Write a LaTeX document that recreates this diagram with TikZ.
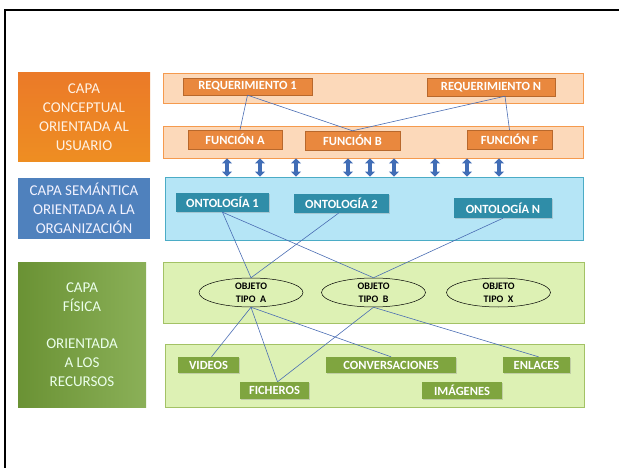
\documentclass[tikz,border=0pt]{standalone}
\usepackage{fontspec}
\setmainfont{Carlito}
\usetikzlibrary{arrows.meta,shapes.geometric,shadows}

\definecolor{capanaranja}{HTML}{EB7A28}
\definecolor{capaazul}{HTML}{4F81BD}
\definecolor{capaverde}{HTML}{76A23A}
\definecolor{bandanaranja}{HTML}{FCD9BA}
\definecolor{bordenaranja}{HTML}{F59A4E}
\definecolor{tagnaranja}{HTML}{E9883E}
\definecolor{tagnaranjaborde}{HTML}{B8682C}
\definecolor{bandaazul}{HTML}{B5E5F6}
\definecolor{bordeazul}{HTML}{4BACC6}
\definecolor{tagazul}{HTML}{2F8DA8}
\definecolor{bandaverde}{HTML}{DDF1B4}
\definecolor{bordeverde}{HTML}{A3C265}
\definecolor{tagverde}{HTML}{7FA53F}
\definecolor{lineaazul}{HTML}{4A6DB3}
\definecolor{flechaazul}{HTML}{416DB6}

\tikzset{
  capa/.style={rectangle, inner sep=0pt, align=center, font=\fontsize{15}{19}\selectfont},
  banda/.style={rectangle, draw, line width=0.8pt, inner sep=0pt},
  etiqueta/.style={rectangle, inner sep=0pt, text=white, font=\bfseries\fontsize{12.5}{14}\selectfont,
    drop shadow={shadow xshift=1pt, shadow yshift=-1pt, opacity=0.3}},
  objeto/.style={ellipse, draw, line width=0.5pt, minimum width=104pt, minimum height=29pt,
    inner sep=0pt, align=center, font=\bfseries\fontsize{10}{13}\selectfont},
  enlace/.style={draw=lineaazul, line width=0.6pt},
  flecha/.style={draw=flechaazul, line width=4pt, {Triangle[length=5pt,width=10pt]}-{Triangle[length=5pt,width=10pt]}}
}

\begin{document}
\begin{tikzpicture}[x=1pt,y=-1pt]
  \useasboundingbox (0,0) rectangle (619,468);
  \draw[line width=1.2pt] (5,468) -- (5,10) -- (619,10); % marco

  % capas de la izquierda
  \node[capa, top color=capanaranja, bottom color=capanaranja!85!yellow, text=orange!10,
    minimum width=132pt, minimum height=89pt] (conceptual) at (84,117.5)
    {CAPA\\CONCEPTUAL\\ORIENTADA AL\\USUARIO};
  \node[capa, fill=capaazul, text=blue!5, minimum width=132pt, minimum height=61pt] (semantica) at (84,208.5)
    {CAPA SEMÁNTICA\\ORIENTADA A LA\\ORGANIZACIÓN};
  \node[capa, left color=capaverde!90!black, right color=capaverde!85!white, text=green!8,
    minimum width=128pt, minimum height=145pt] (fisica) at (82,334.5)
    {CAPA\\FÍSICA\\[18pt]ORIENTADA\\A LOS\\RECURSOS};

  % bandas
  \node[banda, fill=bandanaranja, draw=bordenaranja, minimum width=420pt, minimum height=30pt] (requerimientos) at (373,88) {};
  \node[banda, fill=bandanaranja, draw=bordenaranja, minimum width=420pt, minimum height=32pt] (funciones) at (373,142) {};
  \node[banda, fill=bandaazul, draw=bordeazul, minimum width=418pt, minimum height=63pt] (ontologias) at (374,208.5) {};
  \node[banda, fill=bandaverde, draw=bordeverde, minimum width=421pt, minimum height=61pt] (objetos) at (373.5,292.5) {};
  \node[banda, fill=bandaverde, draw=bordeverde, minimum width=419pt, minimum height=63pt] (recursos) at (374.5,375.5) {};

  % requerimientos y funciones
  \node[etiqueta, fill=tagnaranja, draw=tagnaranjaborde, minimum width=129pt, minimum height=17pt] (req1) at (247.5,86.5) {REQUERIMIENTO 1};
  \node[etiqueta, fill=tagnaranja, draw=tagnaranjaborde, minimum width=128pt, minimum height=18pt] (reqN) at (491,87) {REQUERIMIENTO N};
  \node[etiqueta, fill=tagnaranja, draw=tagnaranjaborde, minimum width=94pt, minimum height=19pt] (funA) at (235,139.5) {FUNCIÓN A};
  \node[etiqueta, fill=tagnaranja, draw=tagnaranjaborde, minimum width=95pt, minimum height=19pt] (funB) at (352.5,140.5) {FUNCIÓN B};
  \node[etiqueta, fill=tagnaranja, draw=tagnaranjaborde, minimum width=85pt, minimum height=19pt] (funF) at (509.5,139.5) {FUNCIÓN F};

  % ontologias
  \node[etiqueta, fill=tagazul, minimum width=93pt, minimum height=19pt] (ont1) at (222.5,202.5) {ONTOLOGÍA 1};
  \node[etiqueta, fill=tagazul, minimum width=95pt, minimum height=19pt] (ont2) at (341.5,203.5) {ONTOLOGÍA 2};
  \node[etiqueta, fill=tagazul, minimum width=98pt, minimum height=20pt] (ontN) at (503,208) {ONTOLOGÍA N};

  % objetos
  \node[objeto] (objA) at (251,292.5) {OBJETO\\TIPO\ \ A};
  \node[objeto] (objB) at (373.5,292.5) {OBJETO\\TIPO\ \ B};
  \node[objeto] (objX) at (498.5,292.5) {OBJETO\\TIPO\ \ X};

  % recursos
  \node[etiqueta, fill=tagverde, minimum width=61pt, minimum height=16pt] (videos) at (208.5,365) {VIDEOS};
  \node[etiqueta, fill=tagverde, minimum width=69pt, minimum height=17pt] (ficheros) at (274.5,390.5) {FICHEROS};
  \node[etiqueta, fill=tagverde, minimum width=130pt, minimum height=16pt] (conversaciones) at (391,365) {CONVERSACIONES};
  \node[etiqueta, fill=tagverde, minimum width=67pt, minimum height=16pt] (enlaces) at (536.5,365) {ENLACES};
  \node[etiqueta, fill=tagverde, minimum width=80pt, minimum height=17pt] (imagenes) at (462,390.5) {IMÁGENES};

  % flechas entre funciones y ontologias
  \foreach \x in {227,260,296,348,370,394,435,467,499}
    \draw[flecha] (\x,0 |- funciones.south) -- (\x,0 |- ontologias.north);

  % enlaces
  \draw[enlace] (req1.south) -- ([xshift=5pt]funA.north);
  \draw[enlace] (req1.south) -- (funB.north);
  \draw[enlace] ([xshift=14pt]reqN.south) -- (funB.north);
  \draw[enlace] ([xshift=14pt]reqN.south) -- (funF.north);
  \draw[enlace] (ont1.south) -- (objA.north);
  \draw[enlace] (ont1.south) -- (objB.north);
  \draw[enlace] ([xshift=-3pt]ont2.south) -- (objA.north);
  \draw[enlace] (ontN.south) -- (objB.north);
  \draw[enlace] (objA.south) -- ([xshift=3pt]videos.north);
  \draw[enlace] (objA.south) -- ([xshift=3pt]ficheros.north);
  \draw[enlace] (objA.south) -- (conversaciones.north);
  \draw[enlace] (objB.south) -- ([xshift=3pt]ficheros.north);
  \draw[enlace] (objB.south) -- ([xshift=2pt]enlaces.north);
\end{tikzpicture}
\end{document}
